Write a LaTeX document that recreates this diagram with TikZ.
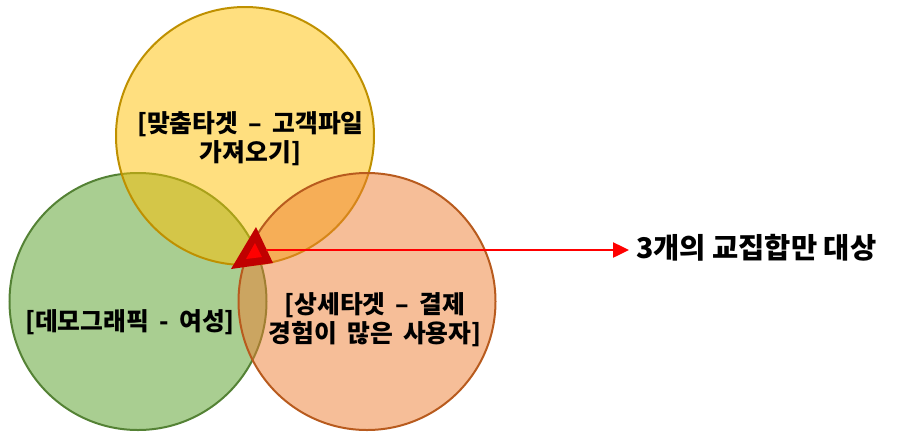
\documentclass[tikz,border=0pt]{standalone}
\usepackage{fontspec}
\setmainfont{Noto Sans CJK KR}
\newfontfamily\krwide{Noto Sans CJK KR}[WordSpace=1.8]
\usetikzlibrary{arrows.meta}
\definecolor{yfill}{HTML}{FFC000}
\definecolor{ydraw}{HTML}{BF9000}
\definecolor{gfill}{HTML}{70AD47}
\definecolor{gdraw}{HTML}{548235}
\definecolor{ofill}{HTML}{ED7D31}
\definecolor{odraw}{HTML}{B85B1E}
\definecolor{darkred}{HTML}{C00000}
\tikzset{
  setcircle/.style={circle, line width=2pt, inner sep=0pt},
  label/.style={font=\krwide\bfseries\fontsize{24.8}{29.5}\selectfont, align=center, text=black},
}
\begin{document}
\begin{tikzpicture}[x=1pt,y=-1pt]
\useasboundingbox (0,0) rectangle (898,432);
% circles: green, yellow, orange
\node[setcircle, draw=gdraw, fill=gfill, fill opacity=0.6, minimum size=257pt] (green) at (138,301.5) {};
\node[setcircle, draw=ydraw, fill=yfill, fill opacity=0.5, minimum size=258pt] (yellow) at (245,136) {};
\node[setcircle, draw=odraw, fill=ofill, fill opacity=0.5, minimum size=257pt] (orange) at (367,301.5) {};
% labels
\node[label] (ylab) at (250.5,138.5) {[맞춤타겟 – 고객파일\\가져오기]};
\node[label] (glab) at (130,322) {[데모그래픽 - 여성]};
\node[label] (olab) at (375,319.5) {[상세타겟 – 결제\\경험이 많은 사용자]};
\node[label, font=\bfseries\fontsize{28.5}{30}\selectfont, anchor=west, inner sep=0pt] (target) at (636,248) {3개의 교집합만 대상};
% triangle marker
\fill[darkred] (256,227) -- (231,269) -- (273,263) -- cycle;
\fill[red] (255,243) -- (246,259) -- (262,257) -- cycle;
\coordinate (tri) at (266,250);
\draw[red, line width=2.5pt, -{Triangle[length=16pt,width=15pt]}] (tri) -- (tri -| 629,0);
\end{tikzpicture}
\end{document}
